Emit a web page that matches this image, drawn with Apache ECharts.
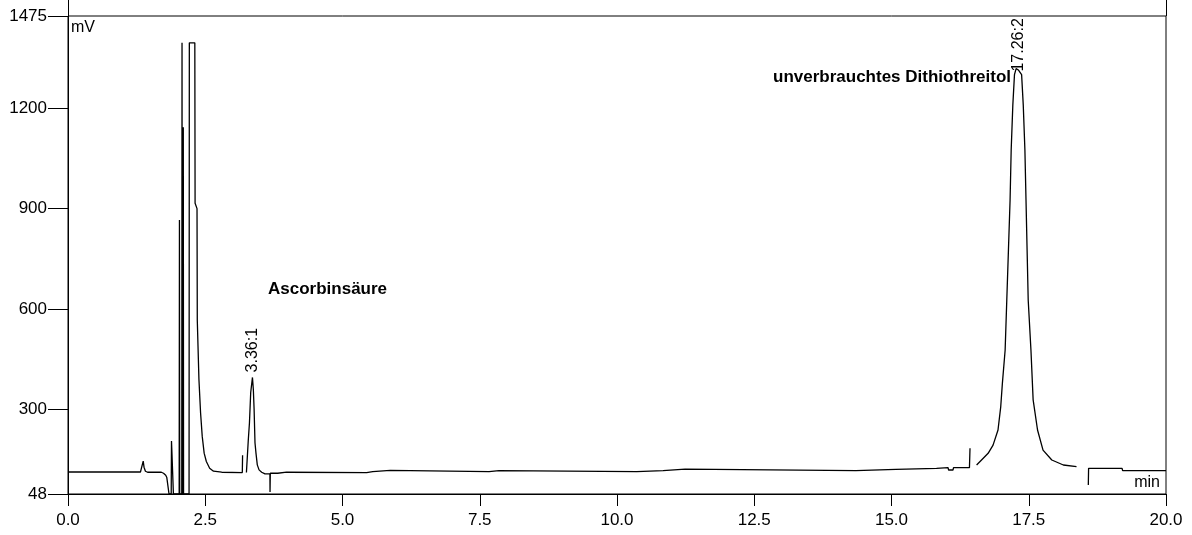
<!DOCTYPE html>
<html>
<head>
<meta charset="utf-8">
<script src="https://cdn.jsdelivr.net/npm/echarts@6/dist/echarts.min.js"></script>
<style>
  html, body { margin: 0; padding: 0; background: #fff; }
  #chart { width: 1192px; height: 535px; }
</style>
</head>
<body>
<div id="chart"></div>
<script>
// chromatogram trace (min / mV), null = gap in the trace
const retentionTime = [
  0, 1.32, 1.35, 1.37, 1.385, 1.41, 1.45, 1.70, 1.74, 1.78, 1.80, 1.83, 1.84,
  1.88, 1.885, 1.89, 1.915, 1.92,
  2.025, 2.03, 2.035, 2.072, 2.077, 2.082, 2.095, 2.10, 2.105,
  2.205, 2.21, 2.31, 2.315, 2.35, 2.355, 2.385, 2.415, 2.445, 2.48, 2.52, 2.58, 2.65, 2.8, 3.175, 3.18, 3.2,
  3.25, 3.284, 3.305, 3.328, 3.36, 3.376, 3.39, 3.406, 3.424, 3.448, 3.48, 3.528, 3.588,
  3.678, 3.68, 3.685, 3.82, 3.83, 3.98, 3.99, 5.44, 5.45, 5.55, 5.56, 5.87, 5.88,
  7.67, 7.68, 7.85, 7.86, 10.36, 10.37, 10.84, 10.85, 11.24, 11.25,
  14.35, 14.36, 15.08, 15.09, 15.82, 15.83, 16.03, 16.04, 16.12, 16.13, 16.42, 16.43, 16.5,
  16.55, 16.64, 16.76, 16.85, 16.94, 16.99, 17.02, 17.07, 17.10, 17.13, 17.16, 17.18, 17.21,
  17.24, 17.27, 17.31, 17.37, 17.40, 17.43, 17.45, 17.47, 17.49, 17.54, 17.58, 17.66, 17.76,
  17.92, 18.13, 18.37, 18.5,
  18.585, 18.59, 19.2, 19.21, 19.33, 19.34, 19.36, 20
];
const signalMv = [
  113.7, 113.7, 116, 146, 128, 116, 113, 113, 110, 104, 97, 97, 48,
  48, 206, 185, 185, 48,
  48, 866, 48, 48, 1395, 48, 48, 1143, 48,
  48, 1395, 1395, 916, 900, 567, 390, 290, 220, 170, 145, 125, 116, 113, 112, 164, null,
  112, 209, 260, 351, 396, 360, 300, 201, 170, 135, 120, 113, 108,
  108, 54, 110, 110, 113, 113, 110, 112, 114.7, 114.7, 118.7, 118.7, 114.7,
  114.7, 117.6, 117.6, 114.7, 114.7, 117.6, 117.6, 122, 122, 117.6,
  117.6, 121.7, 121.7, 124.7, 124.7, 126.6, 126.6, 119.6, 119.6, 126.6, 126.6, 184.4, null,
  134.6, 149.5, 169.5, 194, 239, 309, 379, 478, 627, 776, 926, 1075, 1209,
  1300, 1318, 1314, 1300, 1209, 1075, 926, 776, 627, 478, 329, 239, 179,
  149.5, 134.6, 129.5, null,
  75, 124.7, 124.7, 117.6, 117.6, 120, 117.6, 117.6
];

const yTicks = [48, 300, 600, 900, 1200, 1475];
const peakNames = ['3.36:1', '17.26:2'];
const peakTimes = [3.36, 17.32];
const peakHeights = [396, 1318];

const chart = echarts.init(document.getElementById('chart'));
const font = 'Arial, "Liberation Sans", sans-serif';

chart.setOption({
  animation: false,
  backgroundColor: '#fff',
  grid: {
    left: 68, right: 26, top: 16, bottom: 41,
    show: true, borderColor: '#000', borderWidth: 1, backgroundColor: 'transparent'
  },
  xAxis: [
    {
      type: 'value', min: 0, max: 20, interval: 2.5,
      axisLine: { lineStyle: { color: '#000', width: 1 } },
      axisTick: { length: 12, lineStyle: { color: '#000' } },
      axisLabel: {
        color: '#000', fontFamily: font, fontSize: 17, margin: 18,
        formatter: v => v.toFixed(1)
      },
      splitLine: { show: false }
    },
    {
      type: 'value', min: 0, max: 20,
      axisLine: { show: false },
      axisTick: { show: true, length: 19, customValues: [0, 20], lineStyle: { color: '#000' } },
      axisLabel: { show: false },
      splitLine: { show: false }
    }
  ],
  yAxis: {
    type: 'value', min: 48, max: 1475,
    axisLine: { show: true, lineStyle: { color: '#000', width: 1 } },
    axisTick: { show: true, length: 20, customValues: yTicks, lineStyle: { color: '#000' } },
    axisLabel: {
      color: '#000', fontFamily: font, fontSize: 17, margin: 21, customValues: yTicks,
      formatter: v => String(v)
    },
    splitLine: { show: false }
  },
  series: [{
    type: 'line',
    data: retentionTime.map((t, i) => [t, signalMv[i] === null ? '-' : signalMv[i]]),
    showSymbol: false,
    symbol: 'none',
    connectNulls: false,
    lineStyle: { color: '#000', width: 1.3 }
  }]
});

// peak labels sit on the peak tops, rotated like the original print
const labelGap = [-5, 3];
const peakLabels = peakNames.map((name, i) => {
  const p = chart.convertToPixel({ xAxisIndex: 0, yAxisIndex: 0 }, [peakTimes[i], peakHeights[i]]);
  return {
    type: 'text', x: p[0], y: p[1] + labelGap[i], rotation: Math.PI / 2, z: 10,
    style: { text: name, font: '16px ' + font, fill: '#000', align: 'left', verticalAlign: 'middle' }
  };
});

chart.setOption({
  graphic: [
    ...peakLabels,
    { type: 'text', left: 71, top: 20, style: { text: 'mV', font: '16px ' + font, fill: '#000' } },
    { type: 'text', x: 1160, y: 483, style: { text: 'min', font: '16px ' + font, fill: '#000', align: 'right', verticalAlign: 'middle' } },
    { type: 'text', x: 268, y: 289, style: { text: 'Ascorbinsäure', font: 'bold 17px ' + font, fill: '#000', verticalAlign: 'middle' } },
    { type: 'text', x: 773, y: 77, style: { text: 'unverbrauchtes Dithiothreitol', font: 'bold 17px ' + font, fill: '#000', verticalAlign: 'middle' } }
  ]
});
</script>
</body>
</html>
